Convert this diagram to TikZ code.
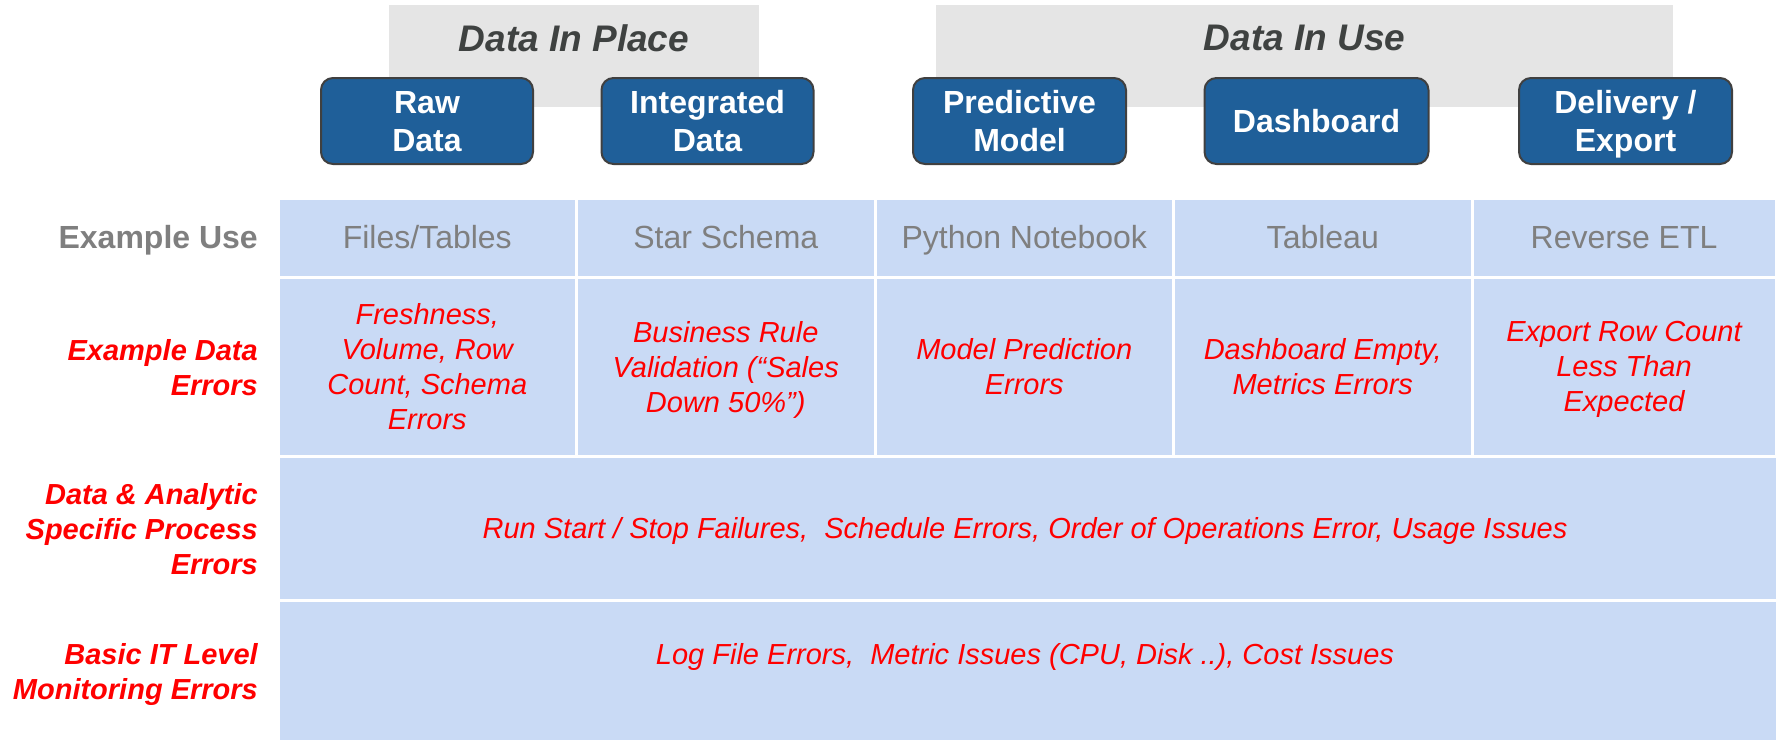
\documentclass[tikz,border=0pt]{standalone}
\usepackage{fontspec}
\setmainfont{Liberation Sans}

\definecolor{boxblue}{HTML}{1F5F99}
\definecolor{boxedge}{HTML}{404040}
\definecolor{panelgrey}{HTML}{E5E5E5}
\definecolor{cellblue}{HTML}{C9DAF5}
\definecolor{usegrey}{HTML}{7F7F7F}
\definecolor{titlegrey}{HTML}{3F4241}

\tikzset{
  stage/.style={draw=boxedge, line width=2pt, fill=boxblue, rounded corners=12pt,
    text=white, font=\fontsize{32}{38}\selectfont\bfseries, align=center,
    minimum height=86pt, inner sep=0pt, text depth=0pt},
  phase/.style={fill=panelgrey, minimum height=102pt, inner sep=0pt},
  phasetitle/.style={text=titlegrey, font=\fontsize{37}{44}\selectfont\bfseries\itshape},
  cell/.style={fill=cellblue, draw=white, line width=3pt, inner sep=0pt},
  usecell/.style={cell, minimum height=79pt, minimum width=298.5pt, text=usegrey,
    font=\fontsize{32}{38}\selectfont, text height=25pt, text depth=4pt},
  errcell/.style={cell, minimum height=179pt, minimum width=298.5pt, text=red,
    font=\fontsize{29}{35}\selectfont\itshape, align=center, text depth=0pt},
  errtext/.style={text=red, font=\fontsize{29}{35}\selectfont\itshape, inner sep=0pt,
    text depth=0pt},
  rowlabel/.style={anchor=east, align=right, text=red, inner sep=0pt, text depth=0pt,
    font=\fontsize{29}{35}\selectfont\bfseries\itshape},
  uselabel/.style={anchor=east, text=usegrey, inner sep=0pt,
    font=\fontsize{32}{38}\selectfont\bfseries, text height=25pt, text depth=4pt},
}

\begin{document}
\begin{tikzpicture}[x=1pt, y=-1pt]
  \useasboundingbox (0,0) rectangle (1776,739);

  % phase panels behind the stage boxes
  \node[phase, minimum width=370pt] (inplace) at (574,56) {};
  \node[phase, minimum width=737pt] (inuse) at (1304.5,56) {};
  \node[phasetitle] (inplacetitle) at (574,38) {Data In Place};
  \node[phasetitle] (inusetitle) at (1304.5,38) {Data In Use};

  % stage boxes
  \node[stage, minimum width=212pt] (raw) at (427,121) {Raw\\Data};
  \node[stage, minimum width=212pt] (integrated) at (707.5,121) {Integrated\\Data};
  \node[stage, minimum width=213pt] (predictive) at (1019.5,121) {Predictive\\Model};
  \node[stage, minimum width=224pt] (dashboard) at (1316.5,121) {Dashboard};
  \node[stage, minimum width=213pt] (delivery) at (1625.5,121) {Delivery /\\Export};

  % row 1: example use (the last column runs past the right edge)
  \node[usecell] (use1) at (427.25,237.5) {Files/Tables};
  \node[usecell] (use2) at (725.75,237.5) {Star Schema};
  \node[usecell] (use3) at (1024.25,237.5) {Python Notebook};
  \node[usecell] (use4) at (1322.75,237.5) {Tableau};
  \node[usecell, minimum width=304pt] (use5) at (1624,237.5) {Reverse ETL};

  % row 2: example data errors
  \node[errcell] (err1) at (427.25,366.5) {Freshness,\\Volume, Row\\Count, Schema\\Errors};
  \node[errcell] (err2) at (725.75,366.5) {Business Rule\\Validation (“Sales\\Down 50\%”)};
  \node[errcell] (err3) at (1024.25,366.5) {Model Prediction\\Errors};
  \node[errcell] (err4) at (1322.75,366.5) {Dashboard Empty,\\Metrics Errors};
  \node[errcell, minimum width=304pt] (err5) at (1624,366.5)
    {Export Row Count\\Less Than\\Expected};

  % row 3: process errors
  \node[cell, minimum width=1506pt, minimum height=144pt] (processrow) at (1031,528) {};
  \node[errtext] (processtext) at (1025,528)
    {Run Start / Stop Failures,\ \ Schedule Errors, Order of Operations Error, Usage Issues};

  % row 4: IT monitoring errors
  \node[cell, minimum width=1506pt, minimum height=170pt] (itrow) at (1031,685) {};
  \node[errtext] (ittext) at (1025,654)
    {Log File Errors,\ \ Metric Issues (CPU, Disk ..), Cost Issues};

  % row labels
  \node[uselabel] (lbluse) at (258,237.5) {Example Use};
  \node[rowlabel] (lblerr) at (258,367) {Example Data\\Errors};
  \node[rowlabel] (lblproc) at (258,529) {Data \& Analytic\\Specific Process\\Errors};
  \node[rowlabel] (lblit) at (258,671) {Basic IT Level\\Monitoring Errors};
\end{tikzpicture}
\end{document}
